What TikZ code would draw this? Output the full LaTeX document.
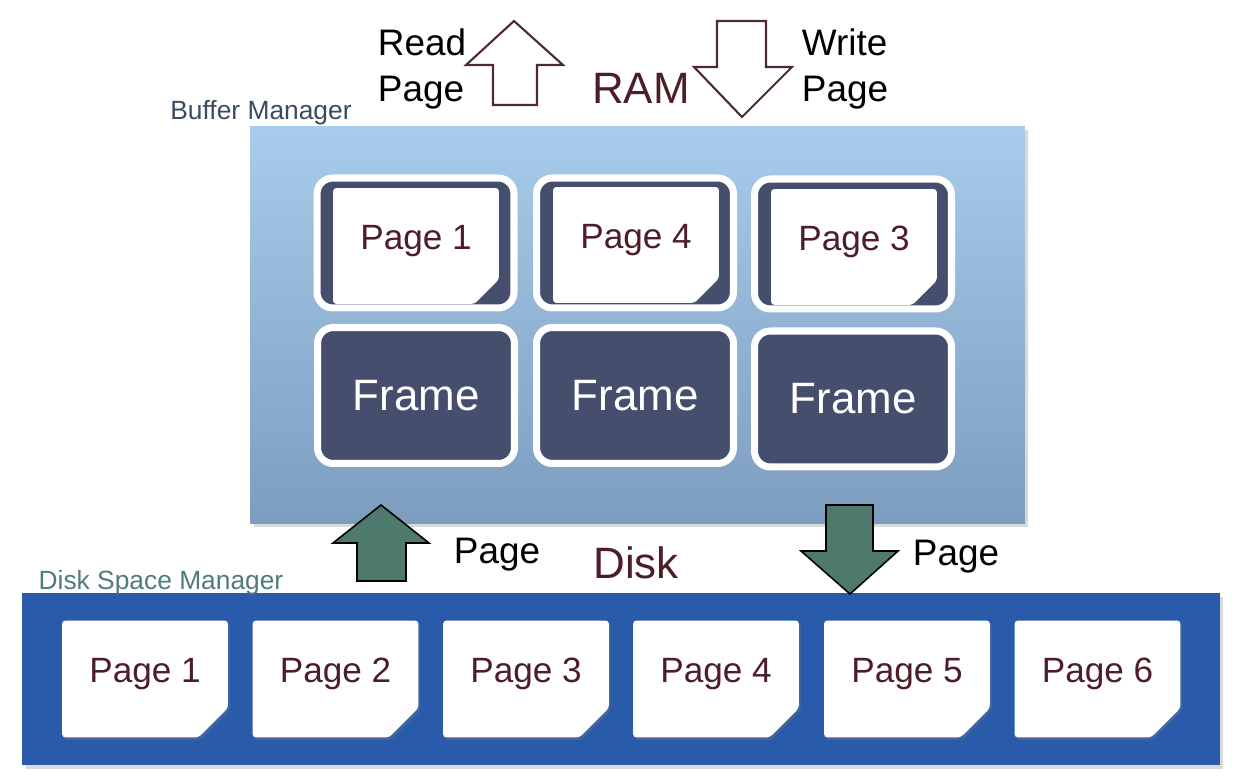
\documentclass[tikz,border=0pt]{standalone}
\usepackage{fontspec}
\setmainfont{Liberation Sans}
\usepackage{xcolor}
\usepackage{tikz}
\usetikzlibrary{positioning,shapes.misc,shadows}
\definecolor{slate}{HTML}{454F6D}
\definecolor{bmtop}{HTML}{A8CCEB}
\definecolor{bmbottom}{HTML}{7D9DBE}
\definecolor{diskblue}{HTML}{2A5AAA}
\definecolor{maroon}{HTML}{4E1E28}
\definecolor{arrowline}{HTML}{4E2A2C}
\definecolor{moveg}{HTML}{4E7A6E}
\definecolor{bmtext}{HTML}{3C4A5E}
\definecolor{dsmtext}{HTML}{4F7C78}
\tikzstyle{slot}= [draw=white, line width=4pt, fill=slate, rounded corners=9pt, inner sep=0pt, minimum width=3.94cm, drop shadow={opacity=0.25, shadow xshift=1pt, shadow yshift=-2pt}]
\tikzstyle{sheet}= [chamfered rectangle, chamfered rectangle corners=south east, fill=white, rounded corners=2pt, inner sep=0pt, text=maroon, font=\fontsize{20}{24}\selectfont, text height=0.72em, text depth=0.36em]
\tikzstyle{lbl}= [inner sep=0pt, font=\fontsize{15}{18}\selectfont]
\tikzstyle{big}= [inner sep=0pt, text=maroon, font=\fontsize{25}{30}\selectfont]
\tikzstyle{note}= [inner sep=0pt, font=\fontsize{21}{26}\selectfont]
\tikzstyle{hollow}= [draw=arrowline, line width=1.2pt, fill=white, line join=miter]
\tikzstyle{move}= [draw=black, line width=0.9pt, fill=moveg, line join=miter]

\begin{document}
\begin{tikzpicture}[x=0.02cm, y=-0.02cm]
	\useasboundingbox (0,0) rectangle (1237,776);
	% buffer manager
	\node[inner sep=0pt, minimum width=15.5cm, minimum height=7.96cm, top color=bmtop, bottom color=bmbottom, drop shadow={opacity=0.3, shadow xshift=2pt, shadow yshift=-2pt}] (bm) at (637.5,325) {};
	\node[lbl, text=bmtext] (bmlabel) at (261,113) {Buffer Manager};
	\node[slot, minimum height=2.6cm] (s1) at (415.5,243) {};
	\node[slot, minimum height=2.6cm] (s2) at (635,243) {};
	\node[slot, minimum height=2.6cm] (s3) at (853,244) {};
	\node[sheet, minimum width=3.32cm, minimum height=2.32cm, chamfered rectangle xsep=0.38cm, chamfered rectangle ysep=0.3cm] (tp1) at (416,246) {Page 1};
	\node[sheet, minimum width=3.32cm, minimum height=2.32cm, chamfered rectangle xsep=0.38cm, chamfered rectangle ysep=0.3cm] (tp2) at (636,245) {Page 4};
	\node[sheet, minimum width=3.32cm, minimum height=2.32cm, chamfered rectangle xsep=0.38cm, chamfered rectangle ysep=0.3cm] (tp3) at (854,247) {Page 3};
	\node[slot, minimum height=2.72cm, text=white, font=\fontsize{25}{30}\selectfont] (f1) at (416,395.5) {Frame};
	\node[slot, minimum height=2.72cm, text=white, font=\fontsize{25}{30}\selectfont] (f2) at (635,395.5) {Frame};
	\node[slot, minimum height=2.72cm, text=white, font=\fontsize{25}{30}\selectfont] (f3) at (853,399) {Frame};
	% ram side
	\node[note, align=left] (read) at (422,69) {Read\\Page};
	\node[note, align=left] (write) at (845,69) {Write\\Page};
	\node[big] (ram) at (641,88) {RAM};
	\draw[hollow] (493,105) -- (493,65) -- (466,65) -- (514,21) -- (563,65) -- (537,65) -- (537,105) -- cycle;
	\draw[hollow] (717,21) -- (766,21) -- (766,67) -- (792,67) -- (742,117) -- (694,67) -- (717,67) -- cycle;
	% disk side
	\node[big] (disk) at (636,563) {Disk};
	\node[note] (pin) at (497,555) {Page};
	\node[note] (pout) at (956,557) {Page};
	\node[inner sep=0pt, minimum width=23.96cm, minimum height=3.44cm, fill=diskblue, drop shadow={opacity=0.3, shadow xshift=2pt, shadow yshift=-2pt}] (dsm) at (621,679) {};
	\node[lbl, text=dsmtext] (dsmlabel) at (161,583) {Disk Space Manager};
	\draw[move] (357,581) -- (357,543) -- (333,543) -- (381,505) -- (429,543) -- (406,543) -- (406,581) -- cycle;
	\draw[move] (826,505) -- (873,505) -- (873,551) -- (898,551) -- (850,594) -- (801,551) -- (826,551) -- cycle;
	\node[sheet, minimum width=3.32cm, minimum height=2.34cm, chamfered rectangle sep=0.4cm, drop shadow={opacity=0.3, shadow xshift=1pt, shadow yshift=-1.5pt}] (d1) at (145,679) {Page 1};
	\node[sheet, minimum width=3.32cm, minimum height=2.34cm, chamfered rectangle sep=0.4cm, drop shadow={opacity=0.3, shadow xshift=1pt, shadow yshift=-1.5pt}] (d2) at (335.5,679) {Page 2};
	\node[sheet, minimum width=3.32cm, minimum height=2.34cm, chamfered rectangle sep=0.4cm, drop shadow={opacity=0.3, shadow xshift=1pt, shadow yshift=-1.5pt}] (d3) at (526,679) {Page 3};
	\node[sheet, minimum width=3.32cm, minimum height=2.34cm, chamfered rectangle sep=0.4cm, drop shadow={opacity=0.3, shadow xshift=1pt, shadow yshift=-1.5pt}] (d4) at (716,679) {Page 4};
	\node[sheet, minimum width=3.32cm, minimum height=2.34cm, chamfered rectangle sep=0.4cm, drop shadow={opacity=0.3, shadow xshift=1pt, shadow yshift=-1.5pt}] (d5) at (907,679) {Page 5};
	\node[sheet, minimum width=3.32cm, minimum height=2.34cm, chamfered rectangle sep=0.4cm, drop shadow={opacity=0.3, shadow xshift=1pt, shadow yshift=-1.5pt}] (d6) at (1097.5,679) {Page 6};
\end{tikzpicture}
\end{document}
